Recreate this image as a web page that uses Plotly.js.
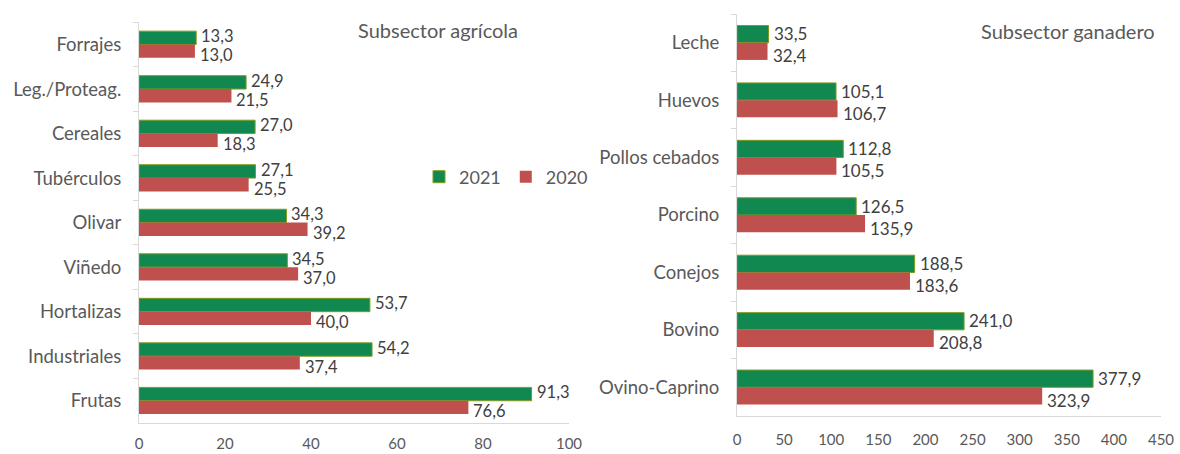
<!DOCTYPE html>
<html>
<head>
<meta charset="utf-8">
<script src="https://cdn.plot.ly/plotly-3.0.1.min.js"></script>
<style>
html,body{margin:0;padding:0;background:#fff;}
#chart{width:1180px;height:454px;}
</style>
</head>
<body>
<div id="chart"></div>
<script>
// Subsector agrícola
const agriCategories = ["Forrajes", "Leg./Proteag.", "Cereales", "Tubérculos", "Olivar", "Viñedo", "Hortalizas", "Industriales", "Frutas"];
const agri2021 = [13.3, 24.9, 27.0, 27.1, 34.3, 34.5, 53.7, 54.2, 91.3];
const agri2020 = [13.0, 21.5, 18.3, 25.5, 39.2, 37.0, 40.0, 37.4, 76.6];

// Subsector ganadero
const ganCategories = ["Leche", "Huevos", "Pollos cebados", "Porcino", "Conejos", "Bovino", "Ovino-Caprino"];
const gan2021 = [33.5, 105.1, 112.8, 126.5, 188.5, 241.0, 377.9];
const gan2020 = [32.4, 106.7, 105.5, 135.9, 183.6, 208.8, 323.9];

const seriesNames = ["2021", "2020"];
const panelTitles = ["Subsector agrícola", "Subsector ganadero"];

const FONT = "Lato, 'Open Sans', sans-serif";
const GREEN = "#118850";
const GREEN_LINE = "#7f9b1c";
const RED = "#c0504d";
const TXT = "#595959";
const LBL = "#404040";
const AXC = "#d9d9d9";

function barTrace(cats, vals, name, color, lineColor, xa, ya, showLegend) {
  return {
    type: "bar", orientation: "h",
    y: cats, x: vals, name: name,
    xaxis: xa, yaxis: ya,
    marker: {color: color, line: {color: lineColor || color, width: lineColor ? 1 : 0}},
    cliponaxis: false,
    showlegend: showLegend,
    hoverinfo: "x+y"
  };
}

const data = [
  barTrace(agriCategories, agri2021, seriesNames[0], GREEN, GREEN_LINE, "x", "y", true),
  barTrace(agriCategories, agri2020, seriesNames[1], RED, null, "x", "y", true),
  barTrace(ganCategories, gan2021, seriesNames[0], GREEN, GREEN_LINE, "x2", "y2", false),
  barTrace(ganCategories, gan2020, seriesNames[1], RED, null, "x2", "y2", false)
];

function fmt(v) { return v.toFixed(1).replace(".", ","); }

function valueLabels(cats, vals, xref, yref, yshift, size) {
  return cats.map((c, i) => ({
    x: vals[i], y: c, xref: xref, yref: yref,
    text: fmt(vals[i]),
    xanchor: "left", yanchor: "middle",
    xshift: 3, yshift: yshift,
    showarrow: false,
    font: {family: FONT, size: size, color: LBL}
  }));
}

function xAxis(domain, range, dtick, anchor, standoff) {
  return {
    domain: domain, range: range, dtick: dtick, tick0: 0, anchor: anchor,
    showgrid: false, zeroline: false,
    showline: true, linecolor: AXC, linewidth: 1,
    ticks: "", ticklabelstandoff: standoff,
    tickfont: {family: FONT, size: 15, color: TXT},
    fixedrange: true
  };
}
function yAxis(domain, anchor) {
  return {
    domain: domain, anchor: anchor, type: "category",
    autorange: "reversed",
    showgrid: false, zeroline: false,
    showline: true, linecolor: AXC, linewidth: 1,
    ticks: "outside", ticklen: 5, tickcolor: AXC, tickson: "boundaries",
    ticklabelstandoff: 13,
    tickfont: {family: FONT, size: 18.5, color: TXT},
    fixedrange: true
  };
}

const annotations = []
  .concat(valueLabels(agriCategories, agri2021, "x", "y", 8.5, 16.5))
  .concat(valueLabels(agriCategories, agri2020, "x", "y", -10.5, 16.5))
  .concat(valueLabels(ganCategories, gan2021, "x2", "y2", 9, 17))
  .concat(valueLabels(ganCategories, gan2020, "x2", "y2", -13, 17))
  .concat([
    {text: panelTitles[0], xref: "paper", yref: "paper", x: 438/1180, y: (454-30)/454,
     xanchor: "center", yanchor: "middle", showarrow: false,
     font: {family: FONT, size: 20, color: TXT}},
    {text: panelTitles[1], xref: "paper", yref: "paper", x: 1068/1180, y: (454-31)/454,
     xanchor: "center", yanchor: "middle", showarrow: false,
     font: {family: FONT, size: 20, color: TXT}}
  ]);

const layout = {
  width: 1180, height: 454,
  margin: {l: 0, r: 0, t: 0, b: 0},
  paper_bgcolor: "#ffffff", plot_bgcolor: "#ffffff",
  separators: ", ",
  barmode: "group",
  bargap: 0.4, bargroupgap: 0,
  font: {family: FONT, color: TXT},
  xaxis: xAxis([139/1180, 569/1180], [0, 100], 20, "y", 7),
  yaxis: yAxis([(454-423)/454, (454-22)/454], "x"),
  xaxis2: xAxis([737/1180, 1161/1180], [0, 450], 50, "y2", 10),
  yaxis2: yAxis([(454-416)/454, (454-14)/454], "x2"),
  showlegend: true,
  legend: {
    orientation: "h", x: 419/1180, y: (454-177)/454, xanchor: "left", yanchor: "middle",
    font: {family: FONT, size: 18, color: TXT},
    bgcolor: "rgba(0,0,0,0)", itemwidth: 30, traceorder: "normal"
  },
  annotations: annotations
};

Plotly.newPlot("chart", data, layout, {displayModeBar: false, staticPlot: true});
</script>
</body>
</html>
